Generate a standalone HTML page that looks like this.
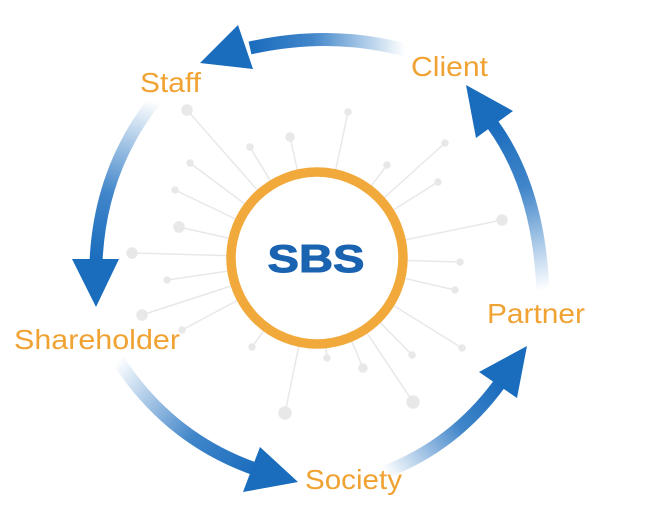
<!DOCTYPE html>
<html><head><meta charset="utf-8"><style>
html,body{margin:0;padding:0;background:#fff;}
svg{display:block;}
text{font-family:"Liberation Sans",sans-serif;}
</style></head><body>
<svg width="646" height="525" viewBox="0 0 646 525" xmlns="http://www.w3.org/2000/svg">
<defs>
<linearGradient id="g1" gradientUnits="userSpaceOnUse" x1="405" y1="50" x2="250" y2="50"><stop offset="0" stop-color="#1f70c0" stop-opacity="0"/><stop offset="0.6" stop-color="#1f70c0" stop-opacity="0.85"/><stop offset="1" stop-color="#1a6cbd"/></linearGradient>
<linearGradient id="g2" gradientUnits="userSpaceOnUse" x1="150" y1="100" x2="96" y2="262"><stop offset="0" stop-color="#1f70c0" stop-opacity="0"/><stop offset="0.6" stop-color="#1f70c0" stop-opacity="0.85"/><stop offset="1" stop-color="#1a6cbd"/></linearGradient>
<linearGradient id="g3" gradientUnits="userSpaceOnUse" x1="118" y1="360" x2="258" y2="470"><stop offset="0" stop-color="#1f70c0" stop-opacity="0"/><stop offset="0.6" stop-color="#1f70c0" stop-opacity="0.85"/><stop offset="1" stop-color="#1a6cbd"/></linearGradient>
<linearGradient id="g4" gradientUnits="userSpaceOnUse" x1="385" y1="472" x2="500" y2="383"><stop offset="0" stop-color="#1f70c0" stop-opacity="0"/><stop offset="0.6" stop-color="#1f70c0" stop-opacity="0.85"/><stop offset="1" stop-color="#1a6cbd"/></linearGradient>
<linearGradient id="g5" gradientUnits="userSpaceOnUse" x1="543" y1="290" x2="493" y2="125"><stop offset="0" stop-color="#1f70c0" stop-opacity="0"/><stop offset="0.6" stop-color="#1f70c0" stop-opacity="0.85"/><stop offset="1" stop-color="#1a6cbd"/></linearGradient>
</defs>

<g stroke="#e8e8e8" stroke-width="1.5" fill="#e8e8e8">
<line x1="317" y1="258" x2="187" y2="110"/><circle cx="187" cy="110" r="5"/>
<line x1="317" y1="258" x2="250" y2="147"/><circle cx="250" cy="147" r="3"/>
<line x1="317" y1="258" x2="290" y2="137"/><circle cx="290" cy="137" r="4"/>
<line x1="317" y1="258" x2="348" y2="112"/><circle cx="348" cy="112" r="3"/>
<line x1="317" y1="258" x2="190" y2="163"/><circle cx="190" cy="163" r="3"/>
<line x1="317" y1="258" x2="175" y2="190"/><circle cx="175" cy="190" r="3"/>
<line x1="317" y1="258" x2="179" y2="227"/><circle cx="179" cy="227" r="5"/>
<line x1="317" y1="258" x2="132" y2="253"/><circle cx="132" cy="253" r="5"/>
<line x1="317" y1="258" x2="167" y2="280"/><circle cx="167" cy="280" r="3"/>
<line x1="317" y1="258" x2="142" y2="315"/><circle cx="142" cy="315" r="5"/>
<line x1="317" y1="258" x2="182" y2="330"/><circle cx="182" cy="330" r="3"/>
<line x1="317" y1="258" x2="252" y2="347"/><circle cx="252" cy="347" r="3"/>
<line x1="317" y1="258" x2="327" y2="358"/><circle cx="327" cy="358" r="3"/>
<line x1="317" y1="258" x2="363" y2="368"/><circle cx="363" cy="368" r="4"/>
<line x1="317" y1="258" x2="412" y2="355"/><circle cx="412" cy="355" r="3"/>
<line x1="317" y1="258" x2="413" y2="402"/><circle cx="413" cy="402" r="6"/>
<line x1="317" y1="258" x2="285" y2="413"/><circle cx="285" cy="413" r="6"/>
<line x1="317" y1="258" x2="462" y2="348"/><circle cx="462" cy="348" r="3"/>
<line x1="317" y1="258" x2="455" y2="290"/><circle cx="455" cy="290" r="3"/>
<line x1="317" y1="258" x2="460" y2="262"/><circle cx="460" cy="262" r="3"/>
<line x1="317" y1="258" x2="502" y2="220"/><circle cx="502" cy="220" r="5"/>
<line x1="317" y1="258" x2="438" y2="182"/><circle cx="438" cy="182" r="3"/>
<line x1="317" y1="258" x2="445" y2="143"/><circle cx="445" cy="143" r="3"/>
<line x1="317" y1="258" x2="387" y2="165"/><circle cx="387" cy="165" r="3"/>
</g>

<circle cx="317" cy="258" r="86" fill="#fff" stroke="#f2a93b" stroke-width="9.5"/>
<text x="316" y="272" text-anchor="middle" font-size="39" font-weight="bold" fill="#1a63b0" stroke="#1a63b0" stroke-width="1" textLength="97" lengthAdjust="spacingAndGlyphs">SBS</text>

<g fill="none" stroke-width="13">
<path d="M405 50 Q330 30 250 48" stroke="url(#g1)"/>
<path d="M155 100 Q100 170 96 262" stroke="url(#g2)"/>
<path d="M118 360 Q170 440 258 470" stroke="url(#g3)"/>
<path d="M385 472 Q455 445 500 383" stroke="url(#g4)"/>
<path d="M543 295 Q540 190 493 125" stroke="url(#g5)"/>
</g>
<g fill="#1a6cbd">
<polygon points="200,63 238,25 253,69"/>
<polygon points="72,259 119,259 96,307"/>
<polygon points="260,447 243,492 298,482"/>
<polygon points="527,346 479,372 517,398"/>
<polygon points="466,85 476,138 513,111"/>
</g>

<g fill="#f0a232" font-size="28">
<text x="140" y="92" textLength="61" lengthAdjust="spacingAndGlyphs">Staff</text>
<text x="411" y="76" textLength="77" lengthAdjust="spacingAndGlyphs">Client</text>
<text x="14" y="349" textLength="166" lengthAdjust="spacingAndGlyphs">Shareholder</text>
<text x="487" y="323" textLength="98" lengthAdjust="spacingAndGlyphs">Partner</text>
<text x="305" y="489" textLength="97" lengthAdjust="spacingAndGlyphs">Society</text>
</g>
</svg>
</body></html>
